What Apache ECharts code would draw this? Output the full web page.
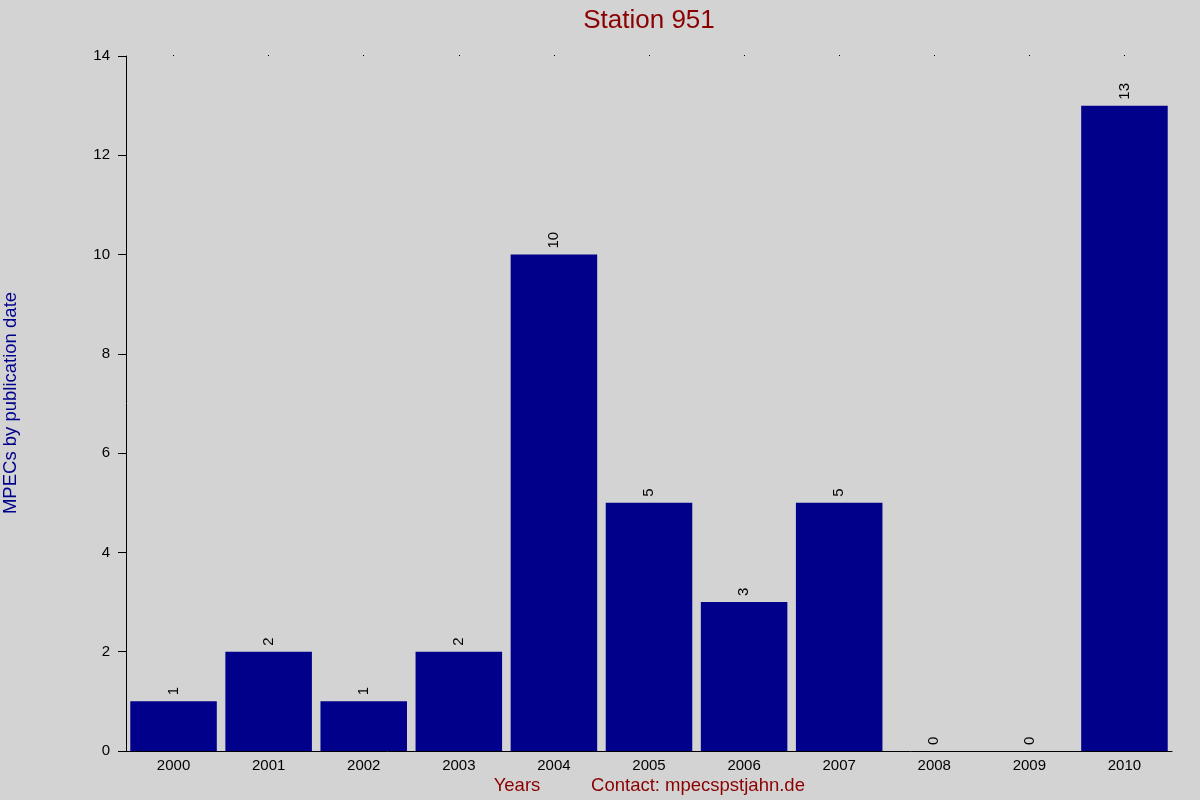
<!DOCTYPE html>
<html><head><meta charset="utf-8">
<script src="https://cdn.jsdelivr.net/npm/echarts@6/dist/echarts.min.js"></script>
<style>html,body{margin:0;padding:0;background:#d3d3d3}#c{width:1200px;height:800px}</style>
</head><body><div id="c"></div>
<script>
const years = ['2000','2001','2002','2003','2004','2005','2006','2007','2008','2009','2010'];
const counts = [1,2,1,2,10,5,3,5,0,0,13];
const yTicks = {min:0, max:14, interval:2};

const chart = echarts.init(document.getElementById('c'));
const F = 'Liberation Sans, Arial, sans-serif';
chart.setOption({
  backgroundColor:'#d3d3d3',
  animation:false,
  title:{text:'Station 951', left:644, textAlign:'center', top:3, textStyle:{color:'#8b0000', fontFamily:F, fontSize:26, fontWeight:'normal'}},
  grid:{left:126, right:28, top:56, bottom:49},
  xAxis:[{
    type:'category', data:years, position:'bottom',
    axisLine:{show:true, lineStyle:{color:'#000', width:1}},
    axisTick:{show:false},
    axisLabel:{color:'#000', fontFamily:F, fontSize:15, margin:7}
  },{
    type:'category', data:years, position:'top',
    axisLine:{show:false},
    axisTick:{show:true, alignWithLabel:true, length:1, lineStyle:{color:'#000'}},
    axisLabel:{show:false}
  }],
  yAxis:{
    type:'value', min:yTicks.min, max:yTicks.max, interval:yTicks.interval,
    axisLine:{show:true, lineStyle:{color:'#000'}},
    axisTick:{show:true, length:8, lineStyle:{color:'#000'}},
    axisLabel:{color:'#000', fontFamily:F, fontSize:15, margin:16},
    splitLine:{show:false}
  },
  graphic:[
    {type:'text', x:11, y:403, rotation:Math.PI/2, style:{text:'MPECs by publication date', fill:'#00008b', font:'18.5px '+F, textAlign:'center', textVerticalAlign:'middle'}},
    {type:'text', x:517, y:786, style:{text:'Years', fill:'#8b0000', font:'18.5px '+F, textAlign:'center', textVerticalAlign:'middle'}},
    {type:'text', x:698, y:786, style:{text:'Contact: mpecspstjahn.de', fill:'#8b0000', font:'18.5px '+F, textAlign:'center', textVerticalAlign:'middle'}}
  ],
  series:[{
    type:'bar', data:counts, barCategoryGap:'9%',
    itemStyle:{color:'#00008b'},
    label:{show:true, position:'top', rotate:90, align:'left', verticalAlign:'middle', distance:6, color:'#000', fontFamily:F, fontSize:15}
  }]
});
</script></body></html>
